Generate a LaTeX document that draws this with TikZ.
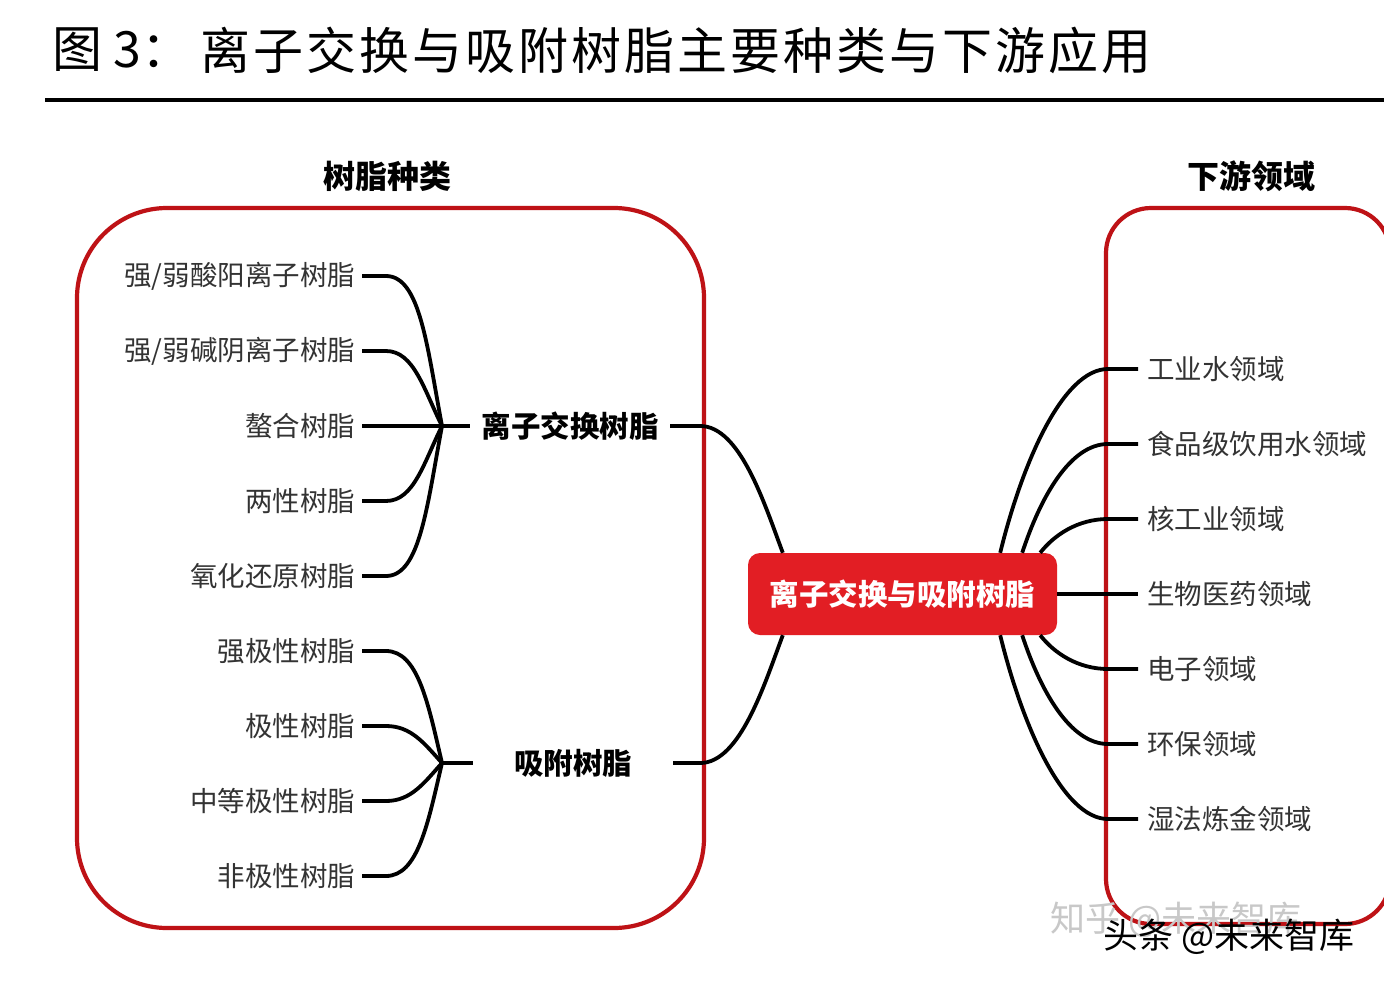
\documentclass[tikz,border=0pt]{standalone}
\usepackage{fontspec}
\setmainfont{Noto Sans CJK SC}
\usetikzlibrary{calc}
\definecolor{boxred}{RGB}{190,18,22}
\definecolor{nodered}{RGB}{226,30,36}
\definecolor{leafgray}{RGB}{51,51,51}
\definecolor{wmgray}{RGB}{200,200,200}
\begin{document}
\begin{tikzpicture}[x=1pt,y=-1pt,
  conn/.style={draw=black, line width=3.8pt},
  frame/.style={draw=boxred, line width=4.2pt},
  leafL/.style={anchor=east, inner sep=0pt, outer xsep=7pt, text=leafgray, font=\fontsize{27.5}{30}\selectfont},
  leafR/.style={anchor=west, inner sep=0pt, outer xsep=9pt, text=leafgray, font=\fontsize{27.5}{30}\selectfont},
  midnode/.style={minimum width=200pt, inner sep=0pt, text=black, font=\bfseries\fontsize{29.5}{32}\selectfont},
  headnode/.style={inner sep=0pt, text=black, font=\bfseries\fontsize{32}{34}\selectfont},
  centernode/.style={fill=nodered, rounded corners=12pt, minimum width=309pt, minimum height=82pt, inner sep=0pt, text=white, font=\bfseries\fontsize{29.5}{32}\selectfont},
  titlenode/.style={anchor=west, inner sep=0pt, text=black, font=\fontsize{50}{55}\selectfont},
  wmnode/.style={anchor=west, inner sep=0pt, font=\fontsize{35}{38}\selectfont}
]
\useasboundingbox (0,0) rectangle (1384,982);
\fill[white] (0,0) rectangle (1384,982);

% title
\node[titlenode] (t1) at (52,50) {图 3：};
\node[titlenode] (t2) at (200,50) {\addfontfeatures{LetterSpace=6}离子交换与吸附树脂主要种类与下游应用};
\draw[line width=4pt] (45,100) -- (1384,100);

% headers
\node[headnode] (hl) at (387,176) {树脂种类};
\node[headnode] (hr) at (1251,176) {下游领域};

% frames
\draw[frame, rounded corners=90pt] (77,208) rectangle (704,928);
\draw[frame, rounded corners=45pt] (1106,208) rectangle (1390,924);

% center
\node[centernode] (c) at (902.5,594) {离子交换与吸附树脂};

% level 1
\node[midnode] (m1) at (570,426) {离子交换树脂};
\node[midnode] (m2) at (573,763) {吸附树脂};

% left leaves group 1
\node[leafL] (a1) at (362,276) {强/弱酸阳离子树脂};
\node[leafL] (a2) at (362,351) {强/弱碱阴离子树脂};
\node[leafL] (a3) at (362,426) {螯合树脂};
\node[leafL] (a4) at (362,501) {两性树脂};
\node[leafL] (a5) at (362,576) {氧化还原树脂};
\coordinate (h1) at (442,426);

% left leaves group 2
\node[leafL] (b1) at (362,651) {强极性树脂};
\node[leafL] (b2) at (362,726) {极性树脂};
\node[leafL] (b3) at (362,801) {中等极性树脂};
\node[leafL] (b4) at (362,876) {非极性树脂};
\coordinate (h2) at (442,763);

% right leaves
\node[leafR] (r1) at (1138,369) {工业水领域};
\node[leafR] (r2) at (1138,444) {食品级饮用水领域};
\node[leafR] (r3) at (1138,519) {核工业领域};
\node[leafR] (r4) at (1138,594) {生物医药领域};
\node[leafR] (r5) at (1138,669) {电子领域};
\node[leafR] (r6) at (1138,744) {环保领域};
\node[leafR] (r7) at (1138,819) {湿法炼金领域};

% connectors group 1
\draw[conn] (a1.east) -- ++(24,0) .. controls +(34,0) and ($(h1)+(-15,-80)$) .. (h1);
\draw[conn] (a2.east) -- ++(24,0) .. controls +(28,0) and ($(h1)+(-18,-36)$) .. (h1);
\draw[conn] (a3.east) -- (h1);
\draw[conn] (a4.east) -- ++(24,0) .. controls +(28,0) and ($(h1)+(-18,36)$) .. (h1);
\draw[conn] (a5.east) -- ++(24,0) .. controls +(34,0) and ($(h1)+(-15,80)$) .. (h1);
\draw[conn] (h1) -- (m1.west);

% connectors group 2
\draw[conn] (b1.east) -- ++(24,0) .. controls +(32,0) and ($(h2)+(-14,-60)$) .. (h2);
\draw[conn] (b2.east) -- ++(24,0) .. controls +(25,0) and ($(h2)+(-18,-20)$) .. (h2);
\draw[conn] (b3.east) -- ++(24,0) .. controls +(25,0) and ($(h2)+(-18,20)$) .. (h2);
\draw[conn] (b4.east) -- ++(24,0) .. controls +(32,0) and ($(h2)+(-14,60)$) .. (h2);
\draw[conn] (h2) -- (m2.west);

% level1 to center
\draw[conn] (m1.east) -- ++(30,0) .. controls +(40,0) and ($(c.north west)+(17,-48)$) .. ($(c.north west)+(35,0)$);
\draw[conn] (m2.east) -- ++(27,0) .. controls +(40,0) and ($(c.south west)+(17,48)$) .. ($(c.south west)+(35,0)$);

% center to right
\draw[conn] ($(c.north east)+(-57,0)$) .. controls ($(c.north east)+(-35,-90)$) and ($(r1.west)+(-75,0)$) .. ($(r1.west)+(-30,0)$) -- (r1.west);
\draw[conn] ($(c.north east)+(-35,0)$) .. controls ($(c.north east)+(-17,-55)$) and ($(r2.west)+(-68,0)$) .. ($(r2.west)+(-30,0)$) -- (r2.west);
\draw[conn] ($(c.north east)+(-17,0)$) .. controls ($(c.north east)+(-3,-18)$) and ($(r3.west)+(-60,0)$) .. ($(r3.west)+(-30,0)$) -- (r3.west);
\draw[conn] (c.east) -- (r4.west);
\draw[conn] ($(c.south east)+(-17,0)$) .. controls ($(c.south east)+(-3,18)$) and ($(r5.west)+(-60,0)$) .. ($(r5.west)+(-30,0)$) -- (r5.west);
\draw[conn] ($(c.south east)+(-35,0)$) .. controls ($(c.south east)+(-17,55)$) and ($(r6.west)+(-68,0)$) .. ($(r6.west)+(-30,0)$) -- (r6.west);
\draw[conn] ($(c.south east)+(-57,0)$) .. controls ($(c.south east)+(-35,90)$) and ($(r7.west)+(-75,0)$) .. ($(r7.west)+(-30,0)$) -- (r7.west);

% watermarks
\node[wmnode, text=wmgray] (w1) at (1050,920) {知乎 @未来智库};
\node[wmnode, text=black] (w2) at (1103,937) {头条 @未来智库};
\end{tikzpicture}
\end{document}
